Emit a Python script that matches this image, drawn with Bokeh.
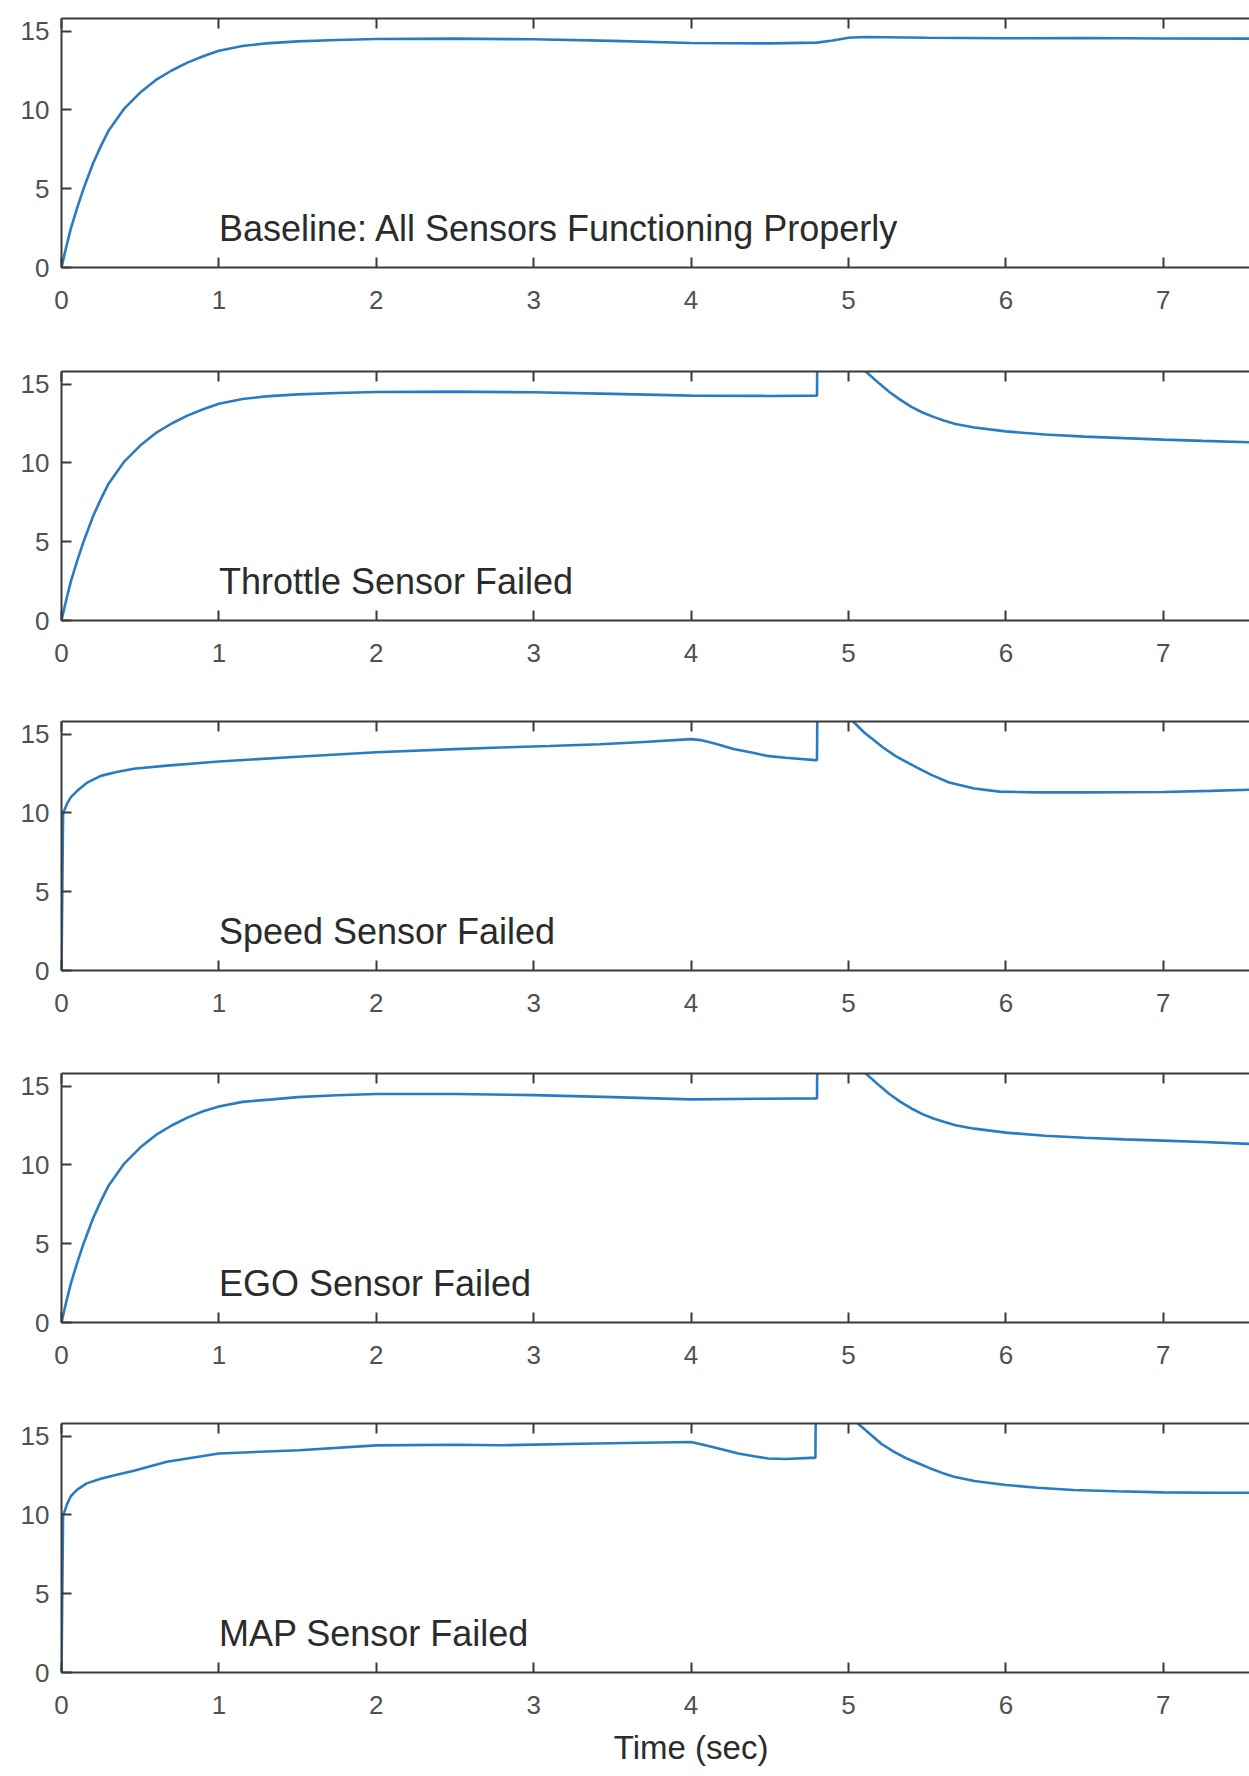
from bokeh.plotting import figure
from bokeh.layouts import column
from bokeh.models import Range1d, LinearAxis, FixedTicker, Label
from bokeh.embed import file_html
from bokeh.resources import INLINE

# ---------------- data ----------------
panel_titles = [
    "Baseline: All Sensors Functioning Properly",
    "Throttle Sensor Failed",
    "Speed Sensor Failed",
    "EGO Sensor Failed",
    "MAP Sensor Failed",
]
x_ticks = [0, 1, 2, 3, 4, 5, 6, 7]
y_ticks = [0, 5, 10, 15]

t_baseline = [0, 0.03, 0.06, 0.1, 0.14, 0.2, 0.25, 0.3, 0.4, 0.5, 0.6, 0.7, 0.8, 0.9, 1.0,
              1.15, 1.3, 1.5, 1.75, 2.0, 2.5, 3.0, 3.5, 4.0, 4.5, 4.8, 4.9, 5.0, 5.1, 5.5,
              6.0, 6.5, 7.0, 7.55]
y_baseline = [0, 1.3, 2.5, 3.8, 5.0, 6.6, 7.7, 8.7, 10.1, 11.1, 11.9, 12.5, 13.0, 13.4, 13.75,
              14.05, 14.22, 14.35, 14.44, 14.5, 14.52, 14.48, 14.38, 14.25, 14.22, 14.27, 14.4,
              14.58, 14.63, 14.58, 14.55, 14.56, 14.53, 14.52]

t_throttle = [0, 0.03, 0.06, 0.1, 0.14, 0.2, 0.25, 0.3, 0.4, 0.5, 0.6, 0.7, 0.8, 0.9, 1.0,
              1.15, 1.3, 1.5, 1.75, 2.0, 2.5, 3.0, 3.5, 4.0, 4.5, 4.8, 4.805, 5.0, 5.11, 5.2,
              5.26, 5.33, 5.4, 5.47, 5.54, 5.61, 5.68, 5.8, 6.0, 6.25, 6.5, 6.75, 7.0, 7.25, 7.55]
y_throttle = [0, 1.3, 2.5, 3.8, 5.0, 6.6, 7.7, 8.7, 10.1, 11.1, 11.9, 12.5, 13.0, 13.4, 13.75,
              14.05, 14.22, 14.35, 14.44, 14.5, 14.52, 14.48, 14.38, 14.27, 14.25, 14.27, 20, 20,
              15.8, 15.0, 14.5, 14.0, 13.55, 13.2, 12.92, 12.68, 12.47, 12.25, 12.0, 11.8, 11.67,
              11.57, 11.48, 11.4, 11.31]

t_speed = [0, 0.01, 0.015, 0.036, 0.06, 0.1, 0.16, 0.25, 0.35, 0.46, 0.67, 1.0, 1.5, 2.0, 2.5,
           2.79, 3.1, 3.42, 3.7, 4.0, 4.06, 4.15, 4.27, 4.4, 4.48, 4.6, 4.79, 4.8, 4.805, 4.95,
           5.03, 5.1, 5.22, 5.3, 5.43, 5.53, 5.64, 5.8, 5.96, 6.2, 6.5, 7.0, 7.3, 7.55]
y_speed = [0, 9.9, 10.1, 10.6, 11.0, 11.4, 11.9, 12.35, 12.6, 12.8, 13.0, 13.26, 13.56, 13.85,
           14.05, 14.15, 14.25, 14.36, 14.5, 14.68, 14.62, 14.4, 14.05, 13.8, 13.62, 13.5, 13.35,
           13.35, 20, 20, 15.8, 15.1, 14.15, 13.6, 12.9, 12.4, 11.93, 11.55, 11.35, 11.3, 11.3,
           11.33, 11.4, 11.47]

t_ego = [0, 0.03, 0.06, 0.1, 0.14, 0.2, 0.25, 0.3, 0.4, 0.5, 0.6, 0.7, 0.8, 0.9, 1.0, 1.15,
         1.34, 1.5, 1.75, 2.0, 2.5, 3.0, 3.5, 4.0, 4.44, 4.8, 4.805, 5.0, 5.11, 5.2, 5.26, 5.33,
         5.4, 5.47, 5.54, 5.61, 5.68, 5.8, 6.0, 6.25, 6.5, 6.75, 7.0, 7.25, 7.55]
y_ego = [0, 1.3, 2.5, 3.8, 5.0, 6.6, 7.7, 8.7, 10.1, 11.1, 11.9, 12.5, 13.0, 13.4, 13.7, 14.0,
         14.16, 14.3, 14.42, 14.5, 14.5, 14.43, 14.3, 14.16, 14.2, 14.22, 20, 20, 15.8, 15.0,
         14.5, 14.0, 13.58, 13.22, 12.95, 12.72, 12.52, 12.3, 12.05, 11.85, 11.72, 11.62, 11.54,
         11.45, 11.33]

t_map = [0, 0.01, 0.015, 0.036, 0.06, 0.1, 0.16, 0.25, 0.35, 0.46, 0.67, 1.0, 1.51, 2.0, 2.5,
         2.79, 3.39, 4.0, 4.09, 4.2, 4.3, 4.4, 4.49, 4.6, 4.76, 4.79, 4.795, 4.95, 5.06, 5.21,
         5.29, 5.37, 5.45, 5.52, 5.6, 5.67, 5.8, 6.0, 6.2, 6.43, 6.7, 7.0, 7.3, 7.55]
y_map = [0, 10.0, 10.1, 10.7, 11.2, 11.6, 12.0, 12.3, 12.55, 12.8, 13.37, 13.9, 14.1, 14.41,
         14.45, 14.42, 14.53, 14.63, 14.42, 14.15, 13.9, 13.72, 13.58, 13.55, 13.62, 13.62, 20,
         20, 15.8, 14.5, 14.0, 13.58, 13.25, 12.95, 12.65, 12.42, 12.15, 11.9, 11.72, 11.58,
         11.5, 11.43, 11.41, 11.41]

series = [(t_baseline, y_baseline), (t_throttle, y_throttle), (t_speed, y_speed),
          (t_ego, y_ego), (t_map, y_map)]
x_label = "Time (sec)"
x_label_at = 4

# ---------------- styling ----------------
FONT = "Liberation Sans"
LINE_COLOR = "#2a7cc0"
AXIS_COLOR = "#3a3a3a"
TICK_LABEL_COLOR = "#505050"
TEXT_COLOR = "#2b2b2b"

fig_heights = [353, 350, 352, 350, 370]
FRAME_H = 249
TOP = 18

figs = []
n = len(series)
for i, ((tx, ty), title) in enumerate(zip(series, panel_titles)):
    last = i == n - 1
    h = fig_heights[i]
    p = figure(width=1249, height=h,
               x_range=Range1d(0, 7.548), y_range=Range1d(0, 15.8),
               output_backend="svg", toolbar_location=None,
               min_border_left=61, min_border_right=0, min_border_top=TOP,
               min_border_bottom=h - TOP - FRAME_H)
    p.outline_line_color = None
    p.grid.visible = False
    p.background_fill_color = "white"
    p.border_fill_color = "white"

    xa = p.xaxis[0]
    xa.ticker = FixedTicker(ticks=x_ticks)
    ya = p.yaxis[0]
    ya.ticker = FixedTicker(ticks=y_ticks)
    for ax in (xa, ya):
        ax.major_tick_in = 10
        ax.major_tick_out = 0
        ax.minor_tick_line_color = None
        ax.axis_line_color = AXIS_COLOR
        ax.axis_line_width = 2
        ax.major_tick_line_color = AXIS_COLOR
        ax.major_tick_line_width = 2
        ax.major_label_text_font = FONT
        ax.major_label_text_font_size = "26px"
        ax.major_label_text_color = TICK_LABEL_COLOR
    xa.major_label_standoff = 23
    ya.major_label_standoff = 12

    top = LinearAxis(ticker=FixedTicker(ticks=x_ticks),
                     major_tick_in=10, major_tick_out=0,
                     minor_tick_line_color=None,
                     axis_line_color=AXIS_COLOR, axis_line_width=2,
                     major_tick_line_color=AXIS_COLOR, major_tick_line_width=2,
                     major_label_text_font_size="0px", major_label_standoff=0)
    p.add_layout(top, "above")

    p.line(tx, ty, line_color=LINE_COLOR, line_width=2.6)

    p.add_layout(Label(x=1, y=2.5, text=title, text_font=FONT, text_font_size="36px",
                       text_baseline="middle", text_align="left", text_color=TEXT_COLOR))
    if last:
        lab = LinearAxis(ticker=FixedTicker(ticks=[x_label_at]),
                         major_label_overrides={x_label_at: x_label},
                         axis_line_color=None, major_tick_line_color=None,
                         minor_tick_line_color=None,
                         major_tick_in=0, major_tick_out=0,
                         major_label_standoff=12,
                         major_label_text_font=FONT,
                         major_label_text_font_size="33px",
                         major_label_text_color=TEXT_COLOR)
        p.add_layout(lab, "below")
    figs.append(p)

layout = column(*figs, spacing=0)
open("out.html", "w").write(file_html(layout, INLINE))
